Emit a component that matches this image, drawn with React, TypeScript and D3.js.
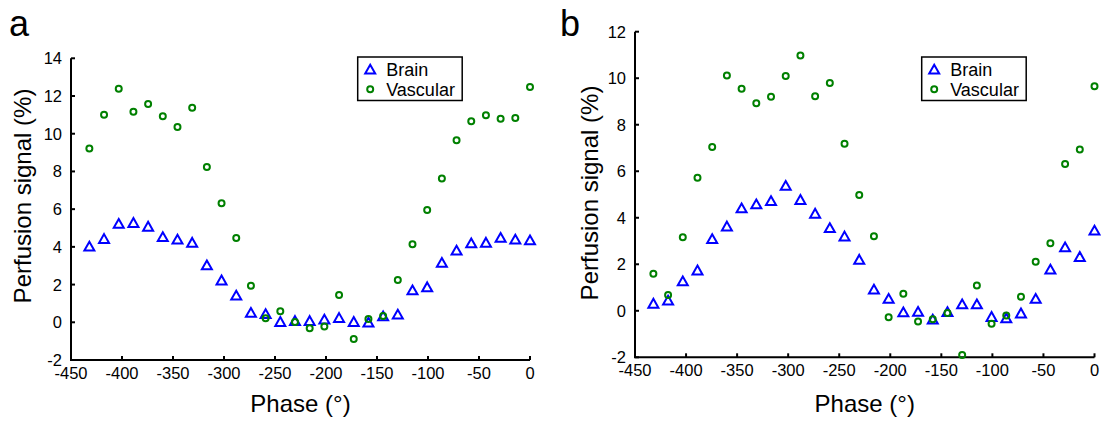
import React from "react";
import * as d3 from "d3";

const phases = d3.range(31).map((i) => -432 + 14.4 * i);

const brainA = [4.0, 4.4, 5.2, 5.25, 5.05, 4.5, 4.37, 4.2, 3.0, 2.2, 1.4, 0.48, 0.42, 0.0, 0.05, 0.05, 0.12, 0.21, 0.0, -0.03, 0.3, 0.39, 1.68, 1.84, 3.13, 3.78, 4.17, 4.2, 4.46, 4.37, 4.33];
const vascularA = [9.21, 11.0, 12.39, 11.16, 11.58, 10.93, 10.36, 11.38, 8.24, 6.31, 4.47, 1.94, 0.21, 0.58, 0.02, -0.32, -0.23, 1.45, -0.89, 0.17, 0.33, 2.24, 4.14, 5.96, 7.62, 9.65, 10.66, 10.98, 10.8, 10.84, 12.48];

const brainB = [0.29, 0.42, 1.25, 1.72, 3.07, 3.61, 4.39, 4.56, 4.7, 5.36, 4.75, 4.16, 3.54, 3.18, 2.18, 0.9, 0.5, -0.08, -0.06, -0.39, -0.07, 0.26, 0.26, -0.28, -0.34, -0.13, 0.5, 1.76, 2.71, 2.3, 3.43];
const vascularB = [1.59, 0.68, 3.16, 5.72, 7.04, 10.12, 9.55, 8.92, 9.2, 10.09, 10.98, 9.22, 9.79, 7.18, 4.98, 3.2, -0.28, 0.73, -0.46, -0.36, -0.1, -1.9, 1.09, -0.56, -0.2, 0.6, 2.11, 2.9, 6.31, 6.94, 9.65];

const xTicks = [-450, -400, -350, -300, -250, -200, -150, -100, -50, 0];
const yTicksA = [-2, 0, 2, 4, 6, 8, 10, 12, 14];
const yTicksB = [-2, 0, 2, 4, 6, 8, 10, 12];
const seriesNames = ["Brain", "Vascular"];
const panelLetters = ["a", "b"];

const FONT = "'Liberation Sans', Arial, Helvetica, sans-serif";
const BLUE = "#0000ff";
const GREEN = "#008000";

function Triangle({ x, y }: { x: number; y: number }) {
  const p = `M${x},${y - 5.2}L${x + 5},${y + 3.6}L${x - 5},${y + 3.6}Z`;
  return <path d={p} fill="none" stroke={BLUE} strokeWidth={2} strokeLinejoin="miter" />;
}

function Circle({ x, y }: { x: number; y: number }) {
  return <circle cx={x} cy={y} r={3} fill="none" stroke={GREEN} strokeWidth={2} />;
}

type PanelProps = {
  letter: string;
  letterX: number;
  xRange: [number, number];
  yDomain: [number, number];
  yRange: [number, number];
  yTicks: number[];
  brain: number[];
  vascular: number[];
  legendX: number;
  ylabelX: number;
  ylabelY: number;
};

function Panel(p: PanelProps) {
  const x = d3.scaleLinear().domain([-450, 0]).range(p.xRange);
  const y = d3.scaleLinear().domain(p.yDomain).range(p.yRange);
  const x0 = p.xRange[0];
  const x1 = p.xRange[1];
  const yb = p.yRange[0];
  const yt = p.yRange[1];
  const lx = p.legendX;
  return (
    <g>
      <text x={p.letterX} y={35.5} fontFamily={FONT} fontSize={36} fill="#000">{p.letter}</text>
      <path d={`M${x0},${yt}V${yb}H${x1}`} fill="none" stroke="#000" strokeWidth={2} />
      {p.yTicks.map((t) => (
        <g key={"y" + t}>
          <line x1={x0} x2={x0 + 4} y1={y(t)} y2={y(t)} stroke="#000" strokeWidth={2} />
          <text x={x0 - 9} y={y(t)} dy="0.36em" textAnchor="end" fontFamily={FONT} fontSize={16.5} fill="#000">{t}</text>
        </g>
      ))}
      {xTicks.map((t) => (
        <g key={"x" + t}>
          <line x1={x(t)} x2={x(t)} y1={yb} y2={yb - 4} stroke="#000" strokeWidth={2} />
          <text x={x(t)} y={yb + 19} textAnchor="middle" fontFamily={FONT} fontSize={16.5} fill="#000">{t}</text>
        </g>
      ))}
      <text x={(x0 + x1) / 2} y={412} textAnchor="middle" fontFamily={FONT} fontSize={24} fill="#000">Phase (°)</text>
      <text transform={`translate(${p.ylabelX},${p.ylabelY}) rotate(-90)`} textAnchor="middle" fontFamily={FONT} fontSize={24} fill="#000">Perfusion signal (%)</text>
      {p.brain.map((v, i) => <Triangle key={"b" + i} x={x(phases[i])} y={y(v)} />)}
      {p.vascular.map((v, i) => <Circle key={"v" + i} x={x(phases[i])} y={y(v)} />)}
      <rect x={lx} y={57} width={104.5} height={43.5} fill="#fff" stroke="#000" strokeWidth={1.5} />
      <Triangle x={lx + 12.5} y={70} />
      <Circle x={lx + 12.5} y={89.3} />
      <text x={lx + 28.5} y={76.3} fontFamily={FONT} fontSize={18} fill="#000">{seriesNames[0]}</text>
      <text x={lx + 28.5} y={95.8} fontFamily={FONT} fontSize={18} fill="#000">{seriesNames[1]}</text>
    </g>
  );
}

export default function App() {
  return (
    <svg width={1101} height={423} style={{ position: "absolute", left: 0, top: 0, background: "#fff" }}>
      <rect width={1101} height={423} fill="#fff" />
      <Panel
        letter={panelLetters[0]}
        letterX={9}
        xRange={[71, 530]}
        yDomain={[-2, 14]}
        yRange={[360, 58.3]}
        yTicks={yTicksA}
        brain={brainA}
        vascular={vascularA}
        legendX={357.7}
        ylabelX={31}
        ylabelY={196}
      />
      <Panel
        letter={panelLetters[1]}
        letterX={560}
        xRange={[635, 1094.5]}
        yDomain={[-2, 12]}
        yRange={[357.3, 31.7]}
        yTicks={yTicksB}
        brain={brainB}
        vascular={vascularB}
        legendX={921.7}
        ylabelX={598}
        ylabelY={193}
      />
    </svg>
  );
}
